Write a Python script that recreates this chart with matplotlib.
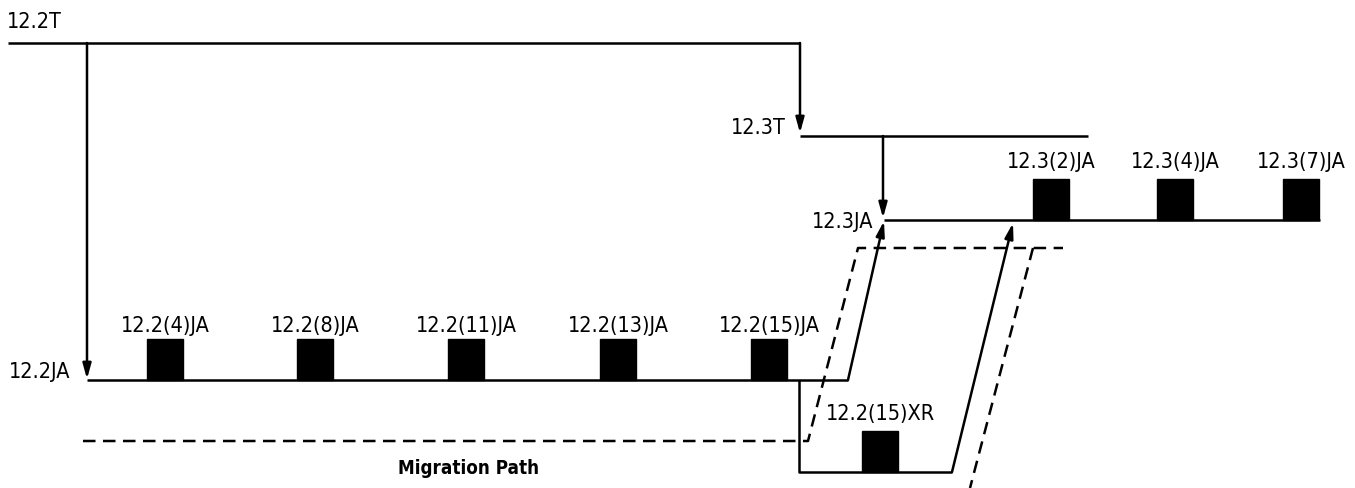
import matplotlib.pyplot as plt
import matplotlib.patches as mpatches

# release trains (labels)
train_labels = ['12.2T', '12.3T', '12.2JA', '12.3JA']
ja_22_releases = ['12.2(4)JA', '12.2(8)JA', '12.2(11)JA', '12.2(13)JA', '12.2(15)JA']
ja_23_releases = ['12.3(2)JA', '12.3(4)JA', '12.3(7)JA']
xr_release = '12.2(15)XR'
path_label = 'Migration Path'

# layout in pixel coords
ja22_x = [165, 315, 466, 618, 769]
ja23_x = [1051, 1175, 1301]
xr_x = 880
y_22t, y_23t, y_23ja, y_22ja, y_xr = 44, 137, 221, 381, 473
box_w, box_h = 36, 41

plt.rcParams['font.family'] = ['DejaVu Sans']
plt.rcParams['font.stretch'] = 'condensed'
fig = plt.figure(figsize=(13.55, 4.89), dpi=100)
ax = fig.add_axes([0, 0, 1, 1])
ax.set_xlim(0, 1355)
ax.set_ylim(489, 0)
ax.axis('off')

lw = 1.8
fs = 15.5
def line(xs, ys, **kw):
    ax.plot(xs, ys, color='black', lw=lw, solid_capstyle='butt', **kw)

def arrow(x0, y0, x1, y1):
    ax.annotate('', xy=(x1, y1), xytext=(x0, y0),
                arrowprops=dict(arrowstyle='-|>,head_length=0.9,head_width=0.25',
                                color='black', lw=lw, shrinkA=0, shrinkB=0))

def label(x, y, s, ha='center', size=fs, **kw):
    ax.text(x, y, s, fontsize=size, va='center', ha=ha, fontstretch='condensed', **kw)

# 12.2T train
line([8, 800], [y_22t, y_22t])
arrow(87, y_22t, 87, y_22ja - 1)
arrow(800, y_22t, 800, y_23t - 3)
label(7, 22, train_labels[0], ha='left')

# 12.3T train
line([800, 1088], [y_23t, y_23t])
arrow(883, y_23t, 883, y_23ja - 2)
label(786, 128, train_labels[1], ha='right')

# 12.3JA train
line([884, 1320], [y_23ja, y_23ja])
label(873, 222, train_labels[3], ha='right')

# 12.2JA train
line([87, 848], [y_22ja, y_22ja])
arrow(848, y_22ja, 884, y_23ja + 1)
label(70, 372, train_labels[2], ha='right')

# 12.2(15)XR branch
line([799, 799, 952], [y_22ja, y_xr, y_xr])
arrow(952, y_xr, 1013, y_23ja + 3)
label(xr_x, 414, xr_release)

# release boxes
for x, lab in zip(ja22_x, ja_22_releases):
    ax.add_patch(mpatches.Rectangle((x - box_w / 2, y_22ja - box_h), box_w, box_h,
                                    color='black'))
    label(x, 326, lab)
for x, lab in zip(ja23_x, ja_23_releases):
    ax.add_patch(mpatches.Rectangle((x - box_w / 2, y_23ja - box_h), box_w, box_h,
                                    color='black'))
    label(x, 162, lab)
ax.add_patch(mpatches.Rectangle((xr_x - 18, y_xr - box_h), box_w, box_h, color='black'))

# migration path (dashed)
dash = dict(color='black', lw=lw, dashes=(5, 3))
ax.plot([83, 808, 858, 1063], [442, 442, 249, 249], **dash)
ax.plot([1033, 970], [249, 489], **dash)
label(469, 469, path_label, size=13.5, fontweight='bold')

fig.savefig('out.png', dpi=100)
